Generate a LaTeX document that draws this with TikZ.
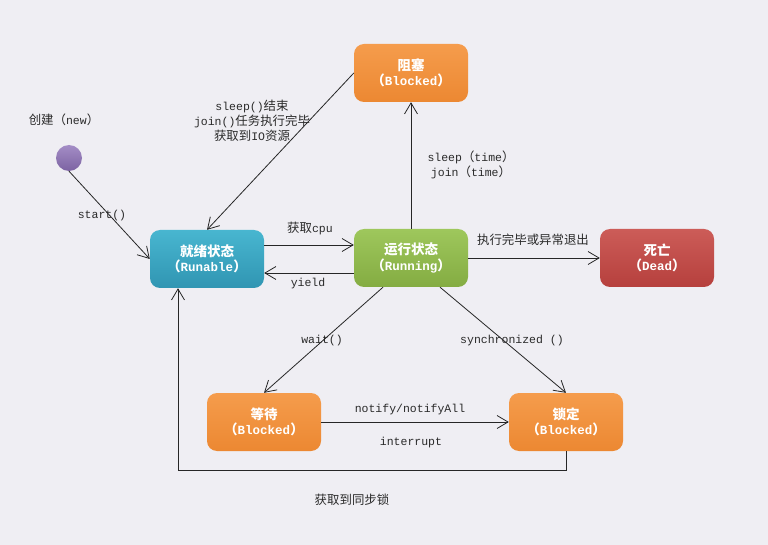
\documentclass[tikz,border=0pt]{standalone}
\usepackage{fontspec}
\setmainfont{Liberation Mono}
\newfontfamily\cj[Scale=1.08]{Noto Sans CJK SC}
\usetikzlibrary{arrows.meta,calc}
\definecolor{bg}{HTML}{EFEEF3}
\definecolor{orT}{HTML}{F59C4C}
\definecolor{orB}{HTML}{EC8832}
\definecolor{blT}{HTML}{48B6D0}
\definecolor{blB}{HTML}{3095B2}
\definecolor{grT}{HTML}{9EC75C}
\definecolor{grB}{HTML}{84AC42}
\definecolor{rdT}{HTML}{CC5C58}
\definecolor{rdB}{HTML}{B6403D}
\definecolor{puT}{HTML}{A48DC6}
\definecolor{puB}{HTML}{7C63A2}
\definecolor{txt}{HTML}{2A2A2A}
\newcommand\C[1]{{\cj #1}}
\tikzset{
  state/.style={rounded corners=10pt, minimum width=114pt, minimum height=58pt,
    inner sep=0pt, align=center, text=white,
    font=\fontsize{12.5}{15.5}\selectfont\bfseries},
  orange/.style={state, top color=orT, bottom color=orB},
  lbl/.style={inner sep=0pt, align=center, text=txt,
    font=\fontsize{11.5}{15}\selectfont},
  conn/.style={draw=black!85, line width=0.8pt,
    -{Straight Barb[length=11pt,width=13pt,line width=0.8pt]}},
  plain/.style={draw=black!85, line width=0.8pt}
}
\begin{document}
\begin{tikzpicture}[x=1pt,y=-1pt]
\fill[bg] (0,0) rectangle (768,545);
\useasboundingbox (0,0) rectangle (768,545);

% states
\node[orange] (blk) at (411,73) {\C{阻塞}\\\C{（}Blocked\C{）}};
\node[state, top color=blT, bottom color=blB] (run) at (207,259) {\C{就绪状态}\\\C{（}Runable\C{）}};
\node[state, top color=grT, bottom color=grB] (rng) at (411,258) {\C{运行状态}\\\C{（}Running\C{）}};
\node[state, top color=rdT, bottom color=rdB] (dead) at (657,258) {\C{死亡}\\\C{（}Dead\C{）}};
\node[orange] (wt) at (264,422) {\C{等待}\\\C{（}Blocked\C{）}};
\node[orange] (lk) at (566,422) {\C{锁定}\\\C{（}Blocked\C{）}};
\node[circle, minimum size=26pt, inner sep=0pt, top color=puT, bottom color=puB] (new) at (69,158) {};

% labels
\node[lbl] (lnew) at (64,120) {\C{创建（}new\C{）}};
\node[lbl] (lsleep) at (252,121) {sleep()\C{结束}\\join()\C{任务执行完毕}\\\C{获取到}IO\C{资源}};
\node[lbl] (lstart) at (102,216) {start()};
\node[lbl] (lcpu) at (310,228) {\C{获取}cpu};
\node[lbl] (lyield) at (308,284) {yield};
\node[lbl] (ltime) at (471,165) {sleep\C{（}time\C{）}\\join\C{（}time\C{）}};
\node[lbl] (ldead) at (533,240) {\C{执行完毕或异常退出}};
\node[lbl] (lwait) at (322,341) {wait()};
\node[lbl] (lsync) at (512,341) {synchronized ()};
\node[lbl] (lnotify) at (410,410) {notify/notifyAll};
\node[lbl] (lint) at (411,443) {interrupt};
\node[lbl] (llock) at (352,500) {\C{获取到同步锁}};

% connectors
\draw[conn] (new.south) -- (run.west);
\draw[conn] (blk.west) -- (run.north);
\draw[conn] ([yshift=14pt]run.east) -- ([yshift=14pt]run.east -| rng.west);
\draw[conn] ([yshift=-15pt]rng.west) -- ([yshift=-15pt]rng.west -| run.east);
\draw[conn] (rng.north) -- (blk.south);
\draw[conn] (rng.east) -- (dead.west);
\draw[conn] ([xshift=-28pt]rng.south) -- (wt.north);
\draw[conn] ([xshift=29pt]rng.south) -- (lk.north);
\draw[conn] (wt.east) -- (lk.west);
\draw[conn] (lk.south) -- ++(0,19) -| ([xshift=-29pt]run.south);
\end{tikzpicture}
\end{document}
